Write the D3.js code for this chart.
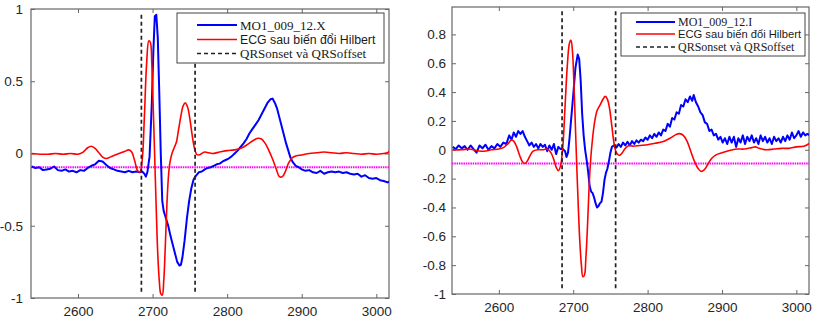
<!DOCTYPE html>
<html>
<head>
<meta charset="utf-8">
<script src="https://cdn.jsdelivr.net/npm/d3@7"></script>
<style>
  body { margin: 0; background: #fff; }
  svg { display: block; }
</style>
</head>
<body>
<div id="chart-container"></div>
<script>
// data (sample index vs amplitude)

const xDomain = [2537, 3017];
const xTicks = [2600, 2700, 2800, 2900, 3000];
const qrsMarks = [2685, 2757];
const threshold = -0.095;

// left panel : MO1_009_12.X
const leftBlueT = [2538,2543,2548,2553,2558,2563,2568,2573,2578,2583,2588,2593,2598,2603,2608,2613,2618,2623,2628,2633,2638,2643,2648,2653,2658,2663,2668,2673,2678,2683,2686,2689,2691,2693,2696,2699,2701,2703,2705,2707,2709,2711,2713,2715,2718,2721,2724,2727,2730,2733,2736,2738,2740,2743,2746,2749,2752,2755,2758,2762,2766,2770,2774,2778,2782,2786,2790,2794,2798,2802,2806,2810,2814,2818,2822,2826,2830,2834,2838,2842,2846,2850,2854,2858,2861,2864,2867,2870,2873,2876,2879,2882,2885,2888,2892,2896,2900,2905,2910,2915,2920,2925,2930,2935,2940,2945,2950,2955,2960,2965,2970,2975,2980,2985,2990,2995,3000,3005,3010,3015,3018];
const leftBlueV = [-0.09,-0.10,-0.095,-0.115,-0.11,-0.105,-0.09,-0.115,-0.12,-0.11,-0.125,-0.12,-0.13,-0.115,-0.12,-0.10,-0.085,-0.075,-0.05,-0.055,-0.08,-0.10,-0.11,-0.12,-0.125,-0.13,-0.12,-0.13,-0.125,-0.13,-0.125,-0.14,-0.16,-0.13,-0.02,0.35,0.70,0.95,0.96,0.80,0.42,0.0,-0.33,-0.40,-0.45,-0.50,-0.57,-0.63,-0.69,-0.75,-0.775,-0.77,-0.72,-0.60,-0.45,-0.33,-0.24,-0.18,-0.155,-0.13,-0.125,-0.11,-0.10,-0.095,-0.085,-0.075,-0.07,-0.055,-0.045,-0.035,-0.02,0.0,0.02,0.045,0.07,0.10,0.14,0.17,0.20,0.23,0.27,0.31,0.35,0.375,0.38,0.35,0.31,0.25,0.19,0.13,0.07,0.02,-0.03,-0.06,-0.085,-0.095,-0.11,-0.12,-0.115,-0.13,-0.135,-0.12,-0.14,-0.13,-0.125,-0.13,-0.125,-0.135,-0.13,-0.14,-0.145,-0.14,-0.16,-0.15,-0.17,-0.175,-0.17,-0.185,-0.19,-0.20,-0.195];

const leftRedT = [2538,2550,2560,2570,2580,2590,2600,2607,2613,2618,2623,2628,2633,2638,2645,2655,2663,2668,2672,2676,2680,2683,2686,2689,2692,2695,2697,2699,2701,2703,2705,2707,2709,2711,2713,2715,2717,2719,2721,2723,2726,2729,2732,2735,2738,2741,2744,2747,2750,2753,2756,2759,2762,2766,2770,2775,2780,2790,2800,2810,2820,2828,2835,2841,2846,2851,2856,2861,2866,2870,2874,2878,2882,2887,2893,2900,2910,2920,2930,2940,2950,2960,2970,2980,2990,3000,3010,3015,3018];
const leftRedV = [0.0,-0.005,-0.005,0.0,-0.005,0.0,-0.005,0.01,0.04,0.05,0.035,0.005,-0.025,-0.035,-0.02,0.0,0.015,0.025,0.01,-0.05,-0.12,-0.13,-0.05,0.25,0.62,0.78,0.77,0.62,0.30,-0.05,-0.40,-0.70,-0.88,-0.97,-0.98,-0.88,-0.65,-0.38,-0.18,-0.07,0.0,0.04,0.08,0.17,0.26,0.33,0.35,0.32,0.24,0.13,0.04,-0.005,-0.01,0.0,0.01,0.005,0.0,0.01,0.02,0.025,0.04,0.065,0.09,0.105,0.10,0.07,0.02,-0.04,-0.11,-0.16,-0.16,-0.125,-0.07,-0.03,-0.015,-0.01,0.0,0.005,0.01,0.005,0.0,0.005,0.0,-0.005,0.0,-0.005,0.0,0.005,0.02];

// right panel : MO1_009_12.I
const rightBlueT = [2538,2542,2546,2550,2554,2558,2562,2566,2570,2574,2578,2582,2586,2590,2594,2598,2602,2606,2610,2614,2617,2620,2623,2626,2629,2632,2635,2638,2641,2644,2647,2650,2653,2656,2659,2662,2665,2668,2671,2674,2677,2680,2683,2686,2689,2691,2693,2695,2697,2700,2703,2706,2708,2710,2712,2714,2716,2718,2720,2722,2724,2726,2728,2730,2732,2734,2736,2738,2740,2742,2744,2746,2748,2750,2752,2755,2758,2761,2764,2767,2770,2773,2776,2779,2782,2785,2788,2791,2794,2797,2800,2803,2806,2809,2812,2815,2818,2821,2824,2827,2830,2833,2836,2839,2842,2845,2848,2851,2854,2857,2860,2862,2865,2868,2871,2874,2877,2880,2883,2886,2889,2892,2895,2898,2901,2904,2907,2910,2913,2916,2919,2922,2925,2928,2931,2934,2937,2940,2943,2946,2949,2952,2955,2958,2961,2964,2967,2970,2973,2976,2979,2982,2985,2988,2991,2994,2997,3000,3003,3006,3009,3012,3015,3018];
const rightBlueV = [0.02,0.005,0.03,0.01,0.025,0.0,0.03,0.005,-0.02,0.03,0.01,0.035,0.0,0.025,0.01,0.04,0.02,0.05,0.04,0.10,0.07,0.12,0.09,0.13,0.11,0.13,0.09,0.06,0.03,0.05,0.02,0.04,0.01,0.04,0.02,0.035,-0.01,0.03,0.0,0.04,-0.03,0.02,0.005,0.005,-0.01,-0.05,-0.02,0.08,0.20,0.38,0.57,0.66,0.63,0.48,0.25,0.10,0.0,-0.07,-0.15,-0.25,-0.29,-0.30,-0.33,-0.37,-0.40,-0.39,-0.37,-0.36,-0.30,-0.21,-0.16,-0.13,-0.08,-0.02,0.02,0.03,0.015,0.04,0.02,0.05,0.03,0.055,0.03,0.06,0.04,0.065,0.05,0.07,0.06,0.085,0.07,0.10,0.08,0.11,0.09,0.12,0.10,0.14,0.13,0.18,0.16,0.22,0.21,0.26,0.25,0.31,0.30,0.35,0.33,0.37,0.34,0.38,0.33,0.30,0.26,0.24,0.19,0.18,0.13,0.14,0.10,0.11,0.07,0.09,0.05,0.08,0.04,0.09,0.05,0.09,0.02,0.08,0.05,0.10,0.04,0.09,0.06,0.10,0.05,0.08,0.04,0.10,0.06,0.09,0.05,0.08,0.04,0.09,0.06,0.08,0.05,0.09,0.06,0.10,0.07,0.12,0.08,0.10,0.13,0.09,0.12,0.10,0.11,0.10];

const rightRedT = [2538,2550,2560,2570,2580,2590,2600,2606,2612,2617,2620,2624,2628,2632,2635,2638,2642,2646,2652,2660,2665,2670,2674,2677,2680,2683,2686,2689,2692,2695,2697,2699,2701,2703,2705,2707,2709,2711,2713,2715,2717,2719,2721,2723,2726,2729,2732,2736,2740,2743,2746,2749,2752,2755,2758,2762,2766,2770,2775,2780,2790,2800,2810,2820,2830,2838,2843,2848,2853,2858,2863,2868,2872,2876,2881,2886,2892,2900,2910,2920,2930,2940,2945,2950,2960,2970,2980,2990,3000,3010,3018];
const rightRedV = [0.0,0.0,0.005,-0.005,-0.01,0.0,0.005,0.015,0.04,0.07,0.06,0.02,-0.04,-0.085,-0.095,-0.08,-0.04,-0.01,0.0,0.0,0.005,-0.02,-0.07,-0.12,-0.145,-0.11,0.02,0.30,0.58,0.74,0.76,0.68,0.45,0.15,-0.15,-0.42,-0.65,-0.80,-0.88,-0.87,-0.75,-0.55,-0.30,-0.10,0.08,0.20,0.27,0.31,0.35,0.37,0.35,0.28,0.16,0.04,-0.02,-0.04,-0.02,0.01,0.03,0.025,0.03,0.035,0.045,0.055,0.08,0.105,0.112,0.10,0.06,-0.01,-0.08,-0.13,-0.15,-0.14,-0.10,-0.06,-0.035,-0.02,-0.005,0.005,0.005,0.015,0.02,0.01,0.0,0.005,0.01,0.01,0.02,0.025,0.045];

const leftYTicks = [-1, -0.5, 0, 0.5, 1];
const rightYTicks = [-1, -0.8, -0.6, -0.4, -0.2, 0, 0.2, 0.4, 0.6, 0.8];

const legendLabels = ["ECG sau biến đổi Hilbert", "QRSonset và QRSoffset"];

const svg = d3.select("#chart-container")
  .append("svg")
  .attr("width", 814)
  .attr("height", 323);

const defs = svg.append("defs");

function drawPanel(opt) {
  const w = opt.right - opt.left;
  const h = opt.bottom - opt.top;
  const g = svg.append("g").attr("transform", `translate(${opt.left},${opt.top})`);

  const x = d3.scaleLinear().domain(xDomain).range([0, w]);
  const y = d3.scaleLinear().domain(opt.yDomain).range([h, 0]);

  defs.append("clipPath").attr("id", opt.id)
    .append("rect").attr("width", w).attr("height", h);

  // box with inward ticks on every side
  const axisColor = "#666";
  const tickLen = 4;
  const styleAxis = sel => {
    sel.select(".domain").remove();
    sel.selectAll(".tick line").attr("stroke", axisColor);
    sel.selectAll(".tick text")
      .attr("fill", "#262626")
      .style("font-family", "'Liberation Sans', Arial, sans-serif")
      .style("font-size", "13.5px");
  };

  g.append("g").attr("transform", `translate(0,${h})`)
    .call(d3.axisBottom(x).tickValues(xTicks).tickSizeInner(-tickLen).tickSizeOuter(0).tickPadding(8).tickFormat(d3.format("d")))
    .call(styleAxis);
  g.append("g")
    .call(d3.axisTop(x).tickValues(xTicks).tickSizeInner(-tickLen).tickSizeOuter(0).tickFormat(""))
    .call(styleAxis);
  g.append("g")
    .call(d3.axisLeft(y).tickValues(opt.yTicks).tickSizeInner(-tickLen).tickSizeOuter(0).tickPadding(opt.yPad).tickFormat(d => String(d)))
    .call(styleAxis);
  g.append("g").attr("transform", `translate(${w},0)`)
    .call(d3.axisRight(y).tickValues(opt.yTicks).tickSizeInner(-tickLen).tickSizeOuter(0).tickFormat(""))
    .call(styleAxis);

  g.append("rect")
    .attr("width", w).attr("height", h)
    .attr("fill", "none").attr("stroke", axisColor).attr("stroke-width", 1.2);

  const plot = g.append("g").attr("clip-path", `url(#${opt.id})`);

  // threshold line
  plot.append("line")
    .attr("x1", 0).attr("x2", w)
    .attr("y1", y(threshold)).attr("y2", y(threshold))
    .attr("stroke", "#ff00ff").attr("stroke-width", 1.8)
    .attr("stroke-dasharray", "1.5,0.8");

  const line = d3.line()
    .x(d => x(d[0]))
    .y(d => y(d[1]));

  const smooth = d3.line()
    .x(d => x(d[0]))
    .y(d => y(d[1]))
    .curve(d3.curveCatmullRom);

  plot.append("path")
    .datum(d3.zip(opt.blueT, opt.blueV))
    .attr("fill", "none").attr("stroke", "#0000ff").attr("stroke-width", 2)
    .attr("stroke-linejoin", "round")
    .attr("d", line);

  plot.append("path")
    .datum(d3.zip(opt.redT, opt.redV))
    .attr("fill", "none").attr("stroke", "#ff0000").attr("stroke-width", 1.6)
    .attr("d", smooth);

  plot.selectAll(".qrs")
    .data(qrsMarks)
    .join("line")
    .attr("x1", d => x(d)).attr("x2", d => x(d))
    .attr("y1", y(0.96)).attr("y2", y(-0.96))
    .attr("stroke", "#222").attr("stroke-width", 1.7)
    .attr("stroke-dasharray", "4,3");

  // legend
  const lg = svg.append("g").attr("transform", `translate(${opt.legend.x},${opt.legend.y})`);
  lg.append("rect")
    .attr("width", opt.legend.w).attr("height", opt.legend.h)
    .attr("fill", "#fff").attr("stroke", "#444").attr("stroke-width", 1);

  const items = [
    {label: opt.name, color: "#0000ff", dash: null, serif: true, width: 1.8},
    {label: legendLabels[0], color: "#ff0000", dash: null, serif: false, width: 1.5},
    {label: legendLabels[1], color: "#222", dash: "4,3", serif: true, width: 1.6}
  ];
  items.forEach((it, i) => {
    const cy = opt.legend.rows[i];
    lg.append("line")
      .attr("x1", opt.legend.lx1).attr("x2", opt.legend.lx2)
      .attr("y1", cy).attr("y2", cy)
      .attr("stroke", it.color).attr("stroke-width", it.width)
      .attr("stroke-dasharray", it.dash);
    lg.append("text")
      .attr("x", opt.legend.tx).attr("y", cy)
      .attr("dy", "0.35em")
      .attr("fill", "#1a1a1a")
      .style("font-family", it.serif ? "'Liberation Serif', 'Times New Roman', serif" : "'Liberation Sans', Arial, sans-serif")
      .style("font-size", it.serif ? opt.legend.serifSize : opt.legend.sansSize)
      .text(it.label);
  });
}

drawPanel({
  id: "clipL", name: "MO1_009_12.X",
  left: 31, right: 389, top: 9, bottom: 298,
  yDomain: [-1, 1], yTicks: leftYTicks, yPad: 8,
  blueT: leftBlueT, blueV: leftBlueV, redT: leftRedT, redV: leftRedV,
  legend: {x: 177, y: 13, w: 207, h: 50, rows: [12, 26.5, 40.5], lx1: 20, lx2: 60, tx: 63, serifSize: "13px", sansSize: "12.3px"}
});

drawPanel({
  id: "clipR", name: "MO1_009_12.I",
  left: 452, right: 809, top: 7, bottom: 294,
  yDomain: [-1, 0.99], yTicks: rightYTicks, yPad: 6,
  blueT: rightBlueT, blueV: rightBlueV, redT: rightRedT, redV: rightRedV,
  legend: {x: 621, y: 13, w: 184, h: 43, rows: [9, 21, 34], lx1: 15, lx2: 54, tx: 57, serifSize: "12px", sansSize: "11.2px"}
});
</script>
</body>
</html>
